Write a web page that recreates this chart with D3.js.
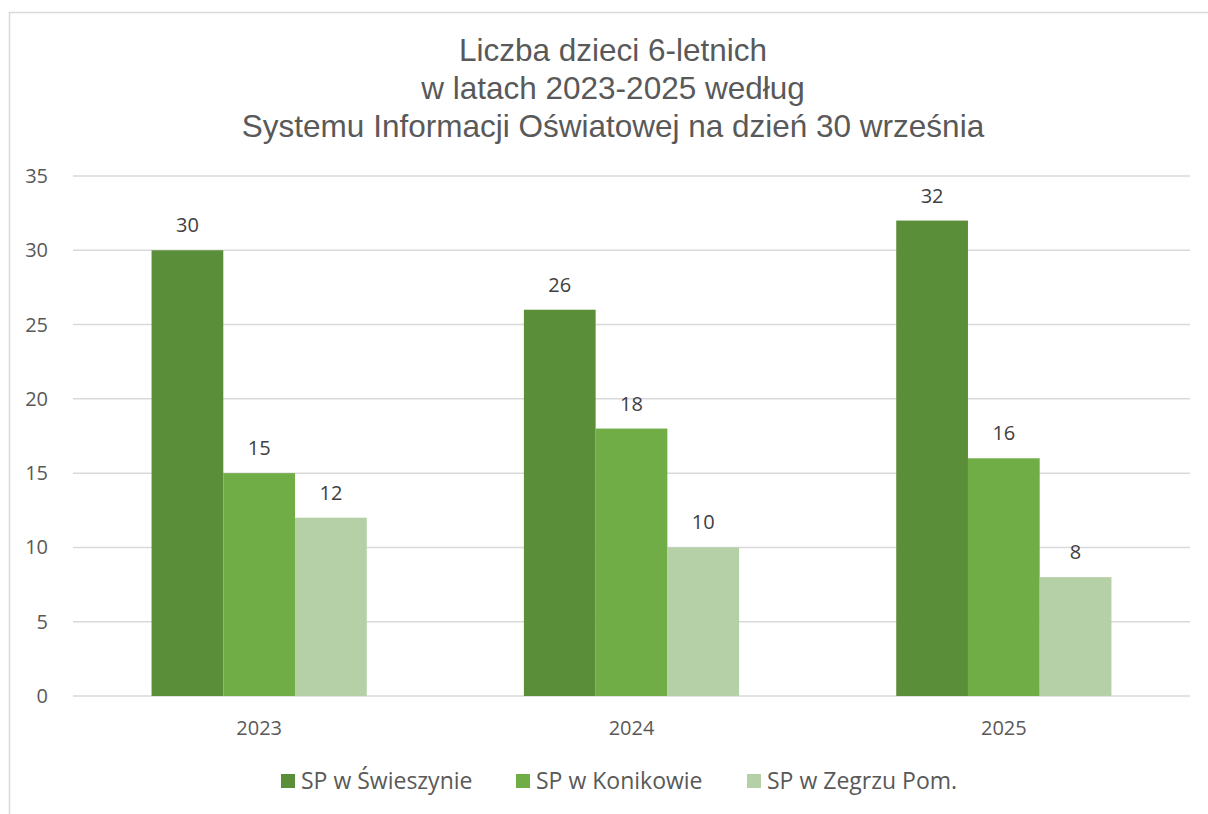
<!DOCTYPE html>
<html>
<head>
<meta charset="utf-8">
<script src="https://cdn.jsdelivr.net/npm/d3@7"></script>
<style>
  body { margin: 0; background: #fff; }
  svg { display: block; }
</style>
</head>
<body>
<svg id="mainsvg" width="1208" height="814"></svg>
<script>
const years = ['2023', '2024', '2025'];
const seriesNames = ['SP w Świeszynie', 'SP w Konikowie', 'SP w Zegrzu Pom.'];
const swieszyno = [30, 26, 32];
const konikowo = [15, 18, 16];
const zegrze = [12, 10, 8];
const yTicks = [0, 5, 10, 15, 20, 25, 30, 35];
const titleLines = ['Liczba dzieci 6-letnich', 'w latach 2023-2025 według', 'Systemu Informacji Oświatowej na dzień 30 września'];

const colors = ['#5b8e38', '#70ad47', '#b5cfa6'];
const textColor = '#595959';

const svg = d3.select('#mainsvg');
const width = +svg.attr('width');
const height = +svg.attr('height');
const margin = { top: 176, right: 18, bottom: 118, left: 73 };
const innerWidth = width - margin.left - margin.right;
const innerHeight = height - margin.top - margin.bottom;

// chart border (left + top edges visible)
svg.append('path')
    .attr('d', `M9.5,${height} V12.5 H${width}`)
    .attr('fill', 'none')
    .attr('stroke', '#d9d9d9')
    .attr('stroke-width', 1.5);

const series = [swieszyno, konikowo, zegrze];

const xScale = d3.scaleBand()
    .domain(years)
    .range([0, innerWidth]);

const xInner = d3.scaleBand()
    .domain(d3.range(seriesNames.length))
    .range([0, xScale.bandwidth() * 0.578])
    .padding(0);

const yScale = d3.scaleLinear()
    .domain([0, 35])
    .range([innerHeight, 0]);

const g = svg.append('g')
    .attr('transform', `translate(${margin.left}, ${margin.top})`);

// gridlines
g.selectAll('.grid')
    .data(yTicks)
    .join('line')
    .attr('x1', 0).attr('x2', innerWidth)
    .attr('y1', d => yScale(d)).attr('y2', d => yScale(d))
    .attr('stroke', '#d9d9d9')
    .attr('stroke-width', 1.5);

// y labels
g.selectAll('.ylab')
    .data(yTicks)
    .join('text')
    .text(d => d)
    .attr('x', -25)
    .attr('y', d => yScale(d) + 7)
    .attr('text-anchor', 'end')
    .attr('font-family', 'Open Sans, sans-serif')
    .attr('font-size', '20px')
    .attr('fill', textColor);

// x labels
g.selectAll('.xlab')
    .data(years)
    .join('text')
    .text(d => d)
    .attr('x', d => xScale(d) + xScale.bandwidth() / 2)
    .attr('y', innerHeight + 39)
    .attr('text-anchor', 'middle')
    .attr('font-family', 'Open Sans, sans-serif')
    .attr('font-size', '20px')
    .attr('fill', textColor);

const groupOffset = (xScale.bandwidth() - xInner.range()[1]) / 2;

series.forEach((vals, si) => {
    years.forEach((yr, i) => {
        const x = xScale(yr) + groupOffset + xInner(si);
        g.append('rect')
            .attr('x', x)
            .attr('y', yScale(vals[i]))
            .attr('width', xInner.bandwidth())
            .attr('height', innerHeight - yScale(vals[i]))
            .attr('fill', colors[si]);
        g.append('text')
            .text(vals[i])
            .attr('x', x + xInner.bandwidth() / 2)
            .attr('y', yScale(vals[i]) - 18)
            .attr('text-anchor', 'middle')
            .attr('font-family', 'Open Sans, sans-serif')
            .attr('font-size', '20px')
            .attr('fill', '#404040');
    });
});

// title
svg.append('g').selectAll('text')
    .data(titleLines)
    .join('text')
    .text(d => d)
    .attr('x', 613)
    .attr('y', (d, i) => 61 + i * 38)
    .attr('text-anchor', 'middle')
    .attr('font-family', 'Liberation Sans, Arial, sans-serif')
    .attr('font-size', '31.5px')
    .attr('fill', textColor);

// legend
const legendX = [281, 516, 747];
const legend = svg.append('g');
seriesNames.forEach((name, i) => {
    legend.append('rect')
        .attr('x', legendX[i]).attr('y', 774)
        .attr('width', 14).attr('height', 14)
        .attr('fill', colors[i]);
    legend.append('text')
        .text(name)
        .attr('x', legendX[i] + 20)
        .attr('y', 789)
        .attr('font-family', 'Open Sans, sans-serif')
        .attr('font-size', '23px')
        .attr('fill', textColor);
});
</script>
</body>
</html>
